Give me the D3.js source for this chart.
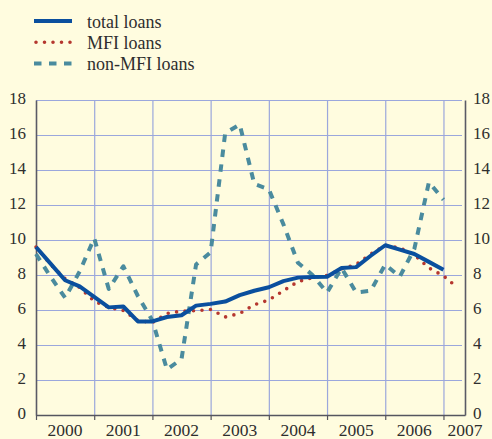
<!DOCTYPE html>
<html>
<head>
<meta charset="utf-8">
<script src="https://cdn.jsdelivr.net/npm/d3@7"></script>
<style>
  body { margin: 0; background: #fffcdf; }
  svg { display: block; }
  text { font-family: 'Liberation Serif', 'Times New Roman', serif; fill: #2e2e2e; }
</style>
</head>
<body>
<div id="chart"></div>
<script>
// quarterly observations, first one at the start of 2000
const periods = [
  '2000Q1', '2000Q2', '2000Q3', '2000Q4',
  '2001Q1', '2001Q2', '2001Q3', '2001Q4',
  '2002Q1', '2002Q2', '2002Q3', '2002Q4',
  '2003Q1', '2003Q2', '2003Q3', '2003Q4',
  '2004Q1', '2004Q2', '2004Q3', '2004Q4',
  '2005Q1', '2005Q2', '2005Q3', '2005Q4',
  '2006Q1', '2006Q2', '2006Q3', '2006Q4',
  '2007Q1', '2007Q2'
]

const totalLoans = [
  9.6, 8.65, 7.7, 7.35, 6.75, 6.15, 6.2, 5.35,
  5.35, 5.6, 5.7, 6.25, 6.35, 6.48, 6.85, 7.1,
  7.3, 7.65, 7.85, 7.88, 7.9, 8.4, 8.45, 9.1,
  9.7, 9.45, 9.2, 8.75, 8.3
]

const mfiLoans = [
  9.6, 8.6, 7.8, 7.28, 6.5, 6.15, 5.97, 5.4,
  5.28, 5.8, 5.94, 5.96, 6.03, 5.6, 5.8, 6.3,
  6.57, 7.1, 7.62, 7.85, 7.97, 8.35, 8.6, 9.2,
  9.7, 9.55, 9.15, 8.4, 7.95, 7.25
]

const nonMfiLoans = [
  9.2, 7.9, 6.7, 8.2, 10.1, 7.2, 8.5, 6.8,
  5.4, 2.6, 3.2, 8.6, 9.3, 16.1, 16.6, 13.2,
  12.9, 10.9, 8.7, 8.0, 7.0, 8.4, 7.0, 7.1,
  8.6, 7.9, 9.5, 13.3, 12.3
]

const years = [2000, 2001, 2002, 2003, 2004, 2005, 2006, 2007]
const yTicks = [0, 2, 4, 6, 8, 10, 12, 14, 16, 18]

const series = [
  { name: 'total loans', values: totalLoans, color: '#0a4f9e', width: 4, dash: null, cap: 'butt' },
  { name: 'MFI loans', values: mfiLoans, color: '#b5372f', width: 3.6, dash: '0,8.5', cap: 'round' },
  { name: 'non-MFI loans', values: nonMfiLoans, color: '#4a8b9e', width: 4, dash: '7.5,7.5', cap: 'butt' }
]

const width = 492
const height = 439
const plot = { left: 36, right: 465, top: 100, bottom: 415 }

const svg = d3
  .select('#chart')
  .append('svg')
  .attr('width', width)
  .attr('height', height)

svg
  .append('rect')
  .attr('width', width)
  .attr('height', height)
  .attr('fill', '#fffcdf')

const parsePeriod = p => +p.slice(0, 4) + (+p.slice(5) - 1) / 4

const xScale = d3
  .scaleLinear()
  .domain([2000, 2007.37])
  .range([plot.left, plot.right])

const yScale = d3
  .scaleLinear()
  .domain([0, 18])
  .range([plot.bottom, plot.top])

// horizontal grid
svg
  .append('g')
  .attr('transform', `translate(${plot.left},0)`)
  .call(
    d3
      .axisLeft(yScale)
      .tickValues(yTicks.slice(1))
      .tickSize(-(plot.right - 3 - plot.left))
      .tickFormat('')
  )
  .call(g => g.select('.domain').remove())
  .selectAll('line')
  .attr('stroke', '#9ba7dc')
  .attr('stroke-width', 1.2)

// vertical grid at year boundaries
svg
  .append('g')
  .attr('transform', `translate(0,${plot.bottom})`)
  .call(
    d3
      .axisBottom(xScale)
      .tickValues(years.slice(1))
      .tickSize(-(plot.bottom - plot.top))
      .tickFormat('')
  )
  .call(g => g.select('.domain').remove())
  .selectAll('line')
  .attr('stroke', '#9ba7dc')
  .attr('stroke-width', 1.2)

// bottom axis with small ticks
svg
  .append('g')
  .attr('transform', `translate(0,${plot.bottom})`)
  .call(
    d3
      .axisBottom(xScale)
      .tickValues(years)
      .tickSizeInner(5)
      .tickSizeOuter(0)
      .tickFormat('')
  )
  .call(g => g.select('.domain').attr('stroke', '#55555f').attr('stroke-width', 1.5))
  .selectAll('line')
  .attr('stroke', '#55555f')
  .attr('stroke-width', 1.2)

// year labels centred in each year
svg
  .selectAll('.year-label')
  .data(years)
  .enter()
  .append('text')
  .attr('class', 'year-label')
  .attr('x', d => Math.min(xScale(d + 0.5), xScale(xScale.domain()[1])))
  .attr('y', 435.8)
  .attr('text-anchor', 'middle')
  .attr('font-size', 17.5)
  .text(d => d)

// left and right value axes
const leftAxis = svg
  .append('g')
  .attr('transform', `translate(${plot.left},0)`)
  .call(d3.axisLeft(yScale).tickValues(yTicks).tickSize(0).tickPadding(10))

const rightAxis = svg
  .append('g')
  .attr('transform', `translate(${plot.right},0)`)
  .call(d3.axisRight(yScale).tickValues(yTicks).tickSize(0).tickPadding(8))

;[leftAxis, rightAxis].forEach(g => {
  g.select('.domain').attr('stroke', '#5a5a66').attr('stroke-width', 1.6)
  g.selectAll('text')
    .attr('font-size', 17)
    .attr('dy', '0.22em')
    .attr('font-family', "'Liberation Serif', 'Times New Roman', serif")
    .attr('fill', '#2e2e2e')
})

// lines
const line = d3
  .line()
  .x((d, i) => xScale(parsePeriod(periods[i])))
  .y(d => yScale(d))

const drawOrder = [series[2], series[1], series[0]]

svg
  .selectAll('.series')
  .data(drawOrder)
  .enter()
  .append('path')
  .attr('class', 'series')
  .attr('d', d => line(d.values))
  .attr('fill', 'none')
  .attr('stroke', d => d.color)
  .attr('stroke-width', d => d.width)
  .attr('stroke-dasharray', d => d.dash)
  .attr('stroke-linecap', d => d.cap)
  .attr('stroke-linejoin', 'round')

// legend
const legend = svg
  .selectAll('.legend')
  .data(series)
  .enter()
  .append('g')
  .attr('class', 'legend')
  .attr('transform', (d, i) => `translate(0,${21 + i * 21.3})`)

legend
  .append('line')
  .attr('x1', d => (d.cap === 'round' ? 36 : 34))
  .attr('x2', 72)
  .attr('stroke', d => d.color)
  .attr('stroke-width', d => d.width)
  .attr('stroke-dasharray', d => d.dash)
  .attr('stroke-linecap', d => d.cap)

legend
  .append('text')
  .attr('x', 87)
  .attr('y', 6.5)
  .attr('font-size', 18)
  .text(d => d.name)
</script>
</body>
</html>
